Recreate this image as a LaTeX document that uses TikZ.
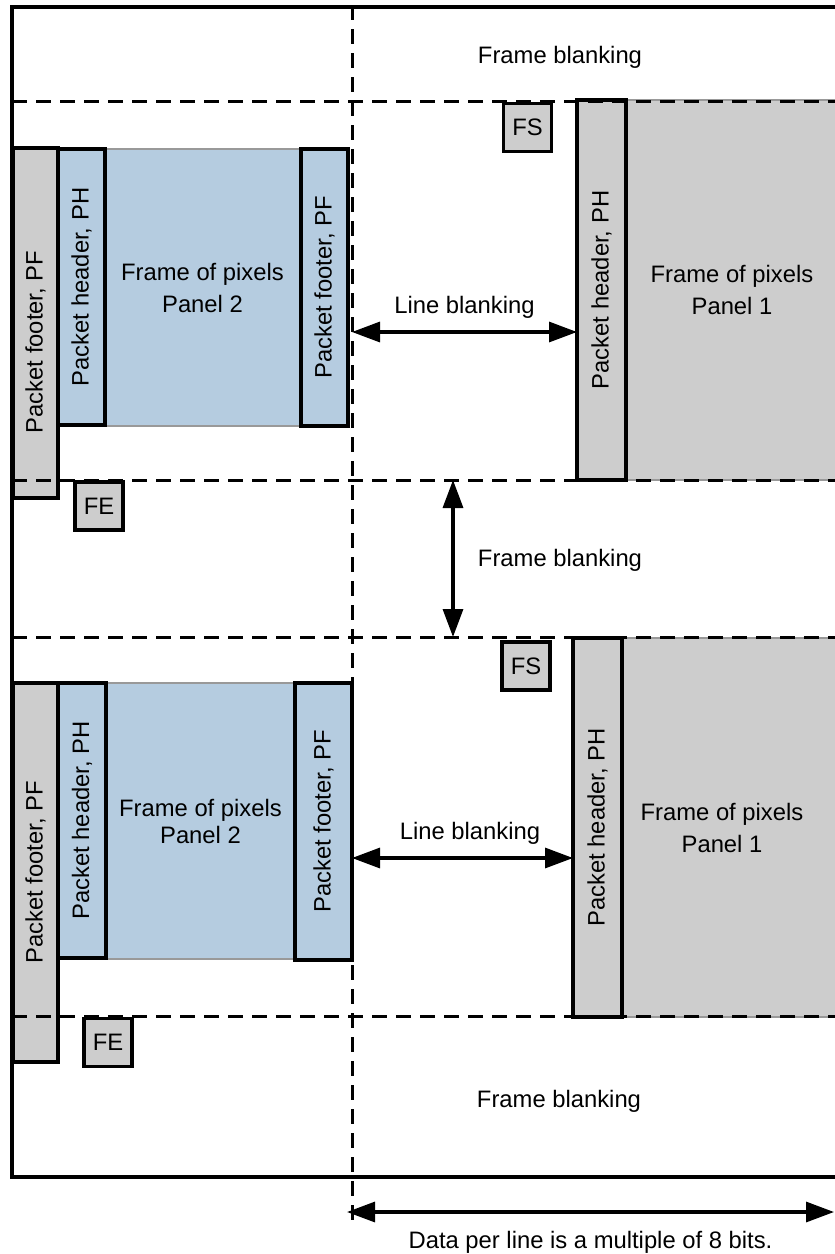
\documentclass[tikz,border=0pt]{standalone}
\usepackage{fontspec}
\setmainfont{Liberation Sans}
\usetikzlibrary{arrows.meta}
\definecolor{boxgrey}{RGB}{205,205,205}
\definecolor{boxblue}{RGB}{181,204,224}

\begin{document}
\begin{tikzpicture}[x=0.5pt, y=0.5pt, font=\fontsize{11.9}{16}\selectfont,
  >={Triangle[length=14pt, width=10pt]},
  box/.style={draw, line width=1.7pt, inner sep=0pt, outer sep=0pt},
  greybox/.style={box, fill=boxgrey},
  bluebox/.style={box, fill=boxblue},
  pixels/.style={draw=black!40, line width=0.6pt, inner sep=0pt, outer sep=0pt, align=center},
  tag/.style={greybox, minimum size=24pt},
  bandline/.style={line width=1.5pt, dash pattern=on 7.5pt off 4.5pt},
  dimarrow/.style={<->, line width=1.6pt}]
  \useasboundingbox (0,0) rectangle (835,-1254);
  \clip (0,0) rectangle (835,-1254);

  % outer frame
  \draw[line width=1.7pt] (845,-7) -- (12,-7) -- (12,-1177) -- (845,-1177);

  % upper frame: panel 2 and panel 1
  \node[greybox, minimum width=22.5pt, minimum height=175pt] (pfoutA) at (35.5,-323) {};
  \node (pfoutAlbl) at (35.5,-342) {\rotatebox{90}{Packet footer, PF}};
  \node[pixels, fill=boxblue, minimum width=97.5pt, minimum height=138.5pt] (pixA2) at (202.5,-287.5)
    {Frame of pixels\\Panel 2};
  \node[bluebox, minimum width=23.5pt, minimum height=138pt] (phA2) at (81.5,-287)
    {\rotatebox{90}{Packet header, PH}};
  \node[bluebox, minimum width=23.5pt, minimum height=138.5pt] (pfA2) at (324.5,-287.5)
    {\rotatebox{90}{Packet footer, PF}};
  \node[tag] (feA) at (99,-506) {FE};
  \node[tag] (fsA) at (527.5,-127.5) {FS};
  \node[pixels, fill=boxgrey, minimum width=106pt, minimum height=190pt] (pixA1) at (732,-290)
    {Frame of pixels\\Panel 1};
  \node[greybox, minimum width=24.5pt, minimum height=190pt] (phA1) at (601.5,-290)
    {\rotatebox{90}{Packet header, PH}};

  % lower frame: panel 2 and panel 1
  \node[greybox, minimum width=22.5pt, minimum height=189.5pt] (pfoutB) at (35.5,-872.5)
    {\rotatebox{90}{Packet footer, PF}};
  \node[pixels, fill=boxblue, minimum width=94.5pt, minimum height=138pt] (pixB2) at (200.5,-821)
    {Frame of pixels\\[-2.5pt]Panel 2};
  \node[bluebox, minimum width=24pt, minimum height=137.5pt] (phB2) at (82,-820.5)
    {\rotatebox{90}{Packet header, PH}};
  \node[bluebox, minimum width=28.5pt, minimum height=138.5pt] (pfB2) at (323.5,-821.5)
    {\rotatebox{90}{Packet footer, PF}};
  \node[tag] (feB) at (108,-1042.5) {FE};
  \node[tag] (fsB) at (526,-666) {FS};
  \node[pixels, fill=boxgrey, minimum width=109pt, minimum height=189.5pt] (pixB1) at (731,-827.5) {};
  \node[align=center] (pixB1lbl) at (722,-828) {Frame of pixels\\Panel 1};
  \node[greybox, minimum width=24.5pt, minimum height=189.5pt] (phB1) at (597.5,-827.5)
    {\rotatebox{90}{Packet header, PH}};

  % blanking boundaries
  \foreach \y in {101,480,637,1016}
    \draw[bandline] (12,-\y) -- (845,-\y);
  \draw[bandline] (352,-5) -- (352,-1222);

  \node (fbtop) at (560,-57) {Frame blanking};
  \node (fbmid) at (560,-560) {Frame blanking};
  \node (fbbot) at (559,-1101) {Frame blanking};

  % arrows
  \coordinate (lbA) at (352,-332);
  \coordinate (lbB) at (0,-858);
  \coordinate (fbA) at (453,-480);
  \coordinate (fbB) at (453,-637);
  \coordinate (dplL) at (347,-1212);
  \coordinate (dplR) at (834,-1212);
  \draw[dimarrow] (lbA) -- node[above=2.6pt] (lblA) {Line blanking} (phA1.west |- lbA);
  \draw[dimarrow] (pfB2.east |- lbB) -- node[above=2.6pt, xshift=3.75pt] (lblB) {Line blanking}
    (phB1.west |- lbB);
  \draw[dimarrow] (fbA) -- (fbB);
  \draw[dimarrow] (dplL) -- node[below=5.5pt] (dpl) {Data per line is a multiple of 8 bits.} (dplR);
\end{tikzpicture}
\end{document}
